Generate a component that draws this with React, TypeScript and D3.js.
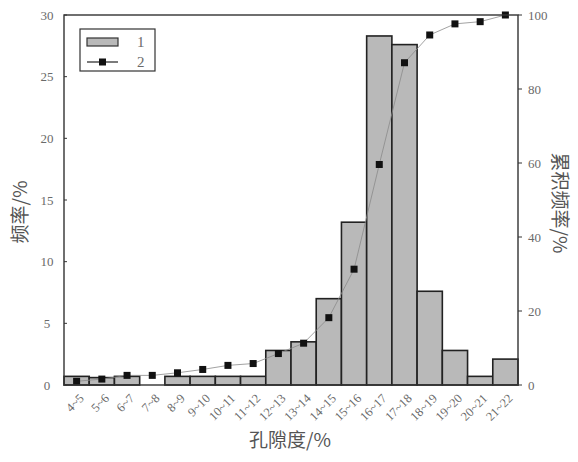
import React from 'react';
import * as d3 from 'd3';

// porosity intervals (%)
const categories = ['4~5', '5~6', '6~7', '7~8', '8~9', '9~10', '10~11', '11~12', '12~13',
  '13~14', '14~15', '15~16', '16~17', '17~18', '18~19', '19~20', '20~21', '21~22'];
// frequency (%)
const frequency = [0.7, 0.6, 0.7, 0, 0.7, 0.7, 0.7, 0.7, 2.8, 3.5, 7.0, 13.2, 28.3, 27.6, 7.6, 2.8, 0.7, 2.1];
// cumulative frequency (%)
const cumulative = [1.0, 1.6, 2.6, 2.6, 3.3, 4.2, 5.3, 5.8, 8.5, 11.3, 18.2, 31.3, 59.6, 87.1, 94.6, 97.6, 98.2, 100];
const leftTicks = [0, 5, 10, 15, 20, 25, 30];
const rightTicks = [0, 20, 40, 60, 80, 100];

const W = 578;
const H = 462;
const margin = { left: 64, right: 60, top: 15, bottom: 77 };
const serif = '"Liberation Serif", "DejaVu Serif", serif';
const cjk = '"Noto Sans CJK SC", sans-serif';
const textColor = '#6a6a6a';

const App = () => {
  const x = d3.scaleBand().domain(categories).range([margin.left, W - margin.right]).padding(0);
  const yL = d3.scaleLinear().domain([0, 30]).range([H - margin.bottom, margin.top]);
  const yR = d3.scaleLinear().domain([0, 100]).range([H - margin.bottom, margin.top]);

  const line = d3.line<number>()
    .x((_, i) => (x(categories[i]) as number) + x.bandwidth() / 2)
    .y(d => yR(d));

  const x0 = margin.left;
  const x1 = W - margin.right;
  const yTop = margin.top;
  const yBot = H - margin.bottom;

  return (
    <svg width={W} height={H} style={{ position: 'absolute', left: 0, top: 0, background: '#fff' }}>
      {/* bars */}
      {frequency.map((v, i) => (
        v > 0 ? (
          <rect key={i}
            x={x(categories[i])}
            y={yL(v)}
            width={x.bandwidth()}
            height={yL(0) - yL(v)}
            fill="#b9b9b9"
            stroke="#222"
            strokeWidth={1.6} />
        ) : null
      ))}

      {/* cumulative line */}
      <path d={line(cumulative) || ''} fill="none" stroke="#8a8a8a" strokeWidth={0.8} />
      {cumulative.map((v, i) => (
        <rect key={i}
          x={(x(categories[i]) as number) + x.bandwidth() / 2 - 3.5}
          y={yR(v) - 3.5}
          width={7} height={7} fill="#111" />
      ))}

      {/* frame */}
      <rect x={x0} y={yTop} width={x1 - x0} height={yBot - yTop} fill="none" stroke="#333" strokeWidth={1.4} />

      {/* left axis */}
      {leftTicks.map(t => (
        <g key={t}>
          <line x1={x0} x2={x0 + 3} y1={yL(t)} y2={yL(t)} stroke="#333" />
          <text x={47} y={yL(t)} dy="0.35em" textAnchor="middle" fontFamily={serif} fontSize={13} fill={textColor}>{t}</text>
        </g>
      ))}

      {/* right axis */}
      {rightTicks.map(t => (
        <g key={t}>
          <line x1={x1} x2={x1 + 4} y1={yR(t)} y2={yR(t)} stroke="#333" />
          <text x={x1 + 10} y={yR(t)} dy="0.35em" textAnchor="start" fontFamily={serif} fontSize={13} fill={textColor}>{t}</text>
        </g>
      ))}

      {/* x tick labels */}
      {categories.map(c => {
        const cx = (x(c) as number) + x.bandwidth() / 2;
        return (
          <text key={c}
            transform={`translate(${cx + 5},${yBot + 11}) rotate(-45)`}
            textAnchor="end" dy="0.35em"
            fontFamily={serif} fontSize={12.5} fill={textColor}>{c}</text>
        );
      })}

      {/* axis titles */}
      <text x={290} y={447} textAnchor="middle" fontFamily={cjk} fontSize={19} fill="#555">孔隙度/%</text>
      <text transform={`translate(27,${(yTop + yBot) / 2 + 12}) rotate(-90)`} textAnchor="middle"
        fontFamily={cjk} fontSize={19} fill="#555">频率/%</text>
      <text transform={`translate(553,${(yTop + yBot) / 2 + 3}) rotate(90)`} textAnchor="middle"
        fontFamily={cjk} fontSize={19} fill="#555">累积频率/%</text>

      {/* legend */}
      <g>
        <rect x={80} y={29} width={75} height={42} fill="#fff" stroke="#333" strokeWidth={1.2} />
        <rect x={87} y={38} width={31} height={8} fill="#b9b9b9" stroke="#333" strokeWidth={1.2} />
        <text x={137} y={42} dy="0.35em" fontFamily={serif} fontSize={15} fill={textColor}>1</text>
        <line x1={87} x2={118} y1={62} y2={62} stroke="#222" strokeWidth={1.2} />
        <rect x={99} y={58.5} width={7} height={7} fill="#111" />
        <text x={137} y={62} dy="0.35em" fontFamily={serif} fontSize={15} fill={textColor}>2</text>
      </g>
    </svg>
  );
};

export default App;
